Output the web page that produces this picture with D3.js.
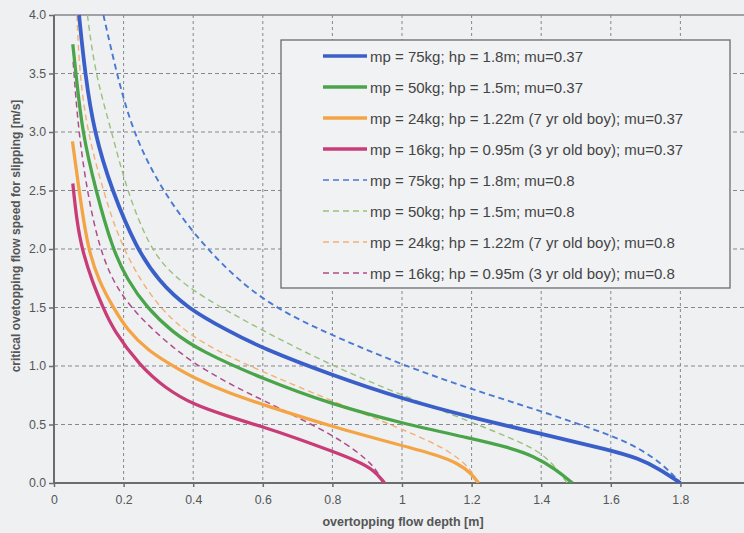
<!DOCTYPE html>
<html>
<head>
<meta charset="utf-8">
<script src="https://cdn.jsdelivr.net/npm/d3@7"></script>
<style>
  html, body { margin: 0; padding: 0; background: #eef0f2; }
  svg { display: block; }
</style>
</head>
<body>
<svg id="chart" width="744" height="533"></svg>
<script>
// ---- data (depth [m], speed [m/s]) ----
const xTicks = [0, 0.2, 0.4, 0.6, 0.8, 1, 1.2, 1.4, 1.6, 1.8];
const xTickLabels = ["0", "0.2", "0.4", "0.6", "0.8", "1", "1.2", "1.4", "1.6", "1.8"];
const yTicks = [0, 0.5, 1, 1.5, 2, 2.5, 3, 3.5, 4];
const yTickLabels = ["0.0", "0.5", "1.0", "1.5", "2.0", "2.5", "3.0", "3.5", "4.0"];

const labels = [
  "mp = 75kg; hp = 1.8m; mu=0.37",
  "mp = 50kg; hp = 1.5m; mu=0.37",
  "mp = 24kg; hp = 1.22m (7 yr old boy); mu=0.37",
  "mp = 16kg; hp = 0.95m (3 yr old boy); mu=0.37",
  "mp = 75kg; hp = 1.8m; mu=0.8",
  "mp = 50kg; hp = 1.5m; mu=0.8",
  "mp = 24kg; hp = 1.22m (7 yr old boy); mu=0.8",
  "mp = 16kg; hp = 0.95m (3 yr old boy); mu=0.8"
];

const s75_037 = [[0.072,4.0],[0.089,3.5],[0.115,3.0],[0.166,2.5],[0.238,2.0],[0.3,1.73],[0.38,1.5],[0.5,1.3],[0.6,1.15],[0.8,0.92],[1.0,0.72],[1.2,0.56],[1.4,0.42],[1.6,0.28],[1.68,0.21],[1.74,0.12],[1.8,0]];
const s50_037 = [[0.054,3.75],[0.063,3.5],[0.081,3.0],[0.12,2.5],[0.168,2.0],[0.21,1.74],[0.266,1.5],[0.34,1.29],[0.42,1.13],[0.6,0.89],[0.8,0.67],[1.0,0.51],[1.2,0.38],[1.3,0.31],[1.38,0.23],[1.44,0.12],[1.49,0]];
const s24_037 = [[0.053,2.92],[0.072,2.5],[0.097,2.0],[0.13,1.72],[0.17,1.5],[0.21,1.31],[0.27,1.13],[0.342,1.0],[0.4,0.9],[0.5,0.77],[0.6,0.67],[0.8,0.48],[1.0,0.32],[1.1,0.24],[1.16,0.17],[1.2,0.08],[1.22,0]];
const s16_037 = [[0.054,2.56],[0.065,2.25],[0.08,2.0],[0.11,1.72],[0.141,1.5],[0.17,1.31],[0.247,1.0],[0.32,0.81],[0.4,0.67],[0.5,0.57],[0.6,0.48],[0.7,0.38],[0.8,0.27],[0.87,0.19],[0.92,0.11],[0.95,0]];
const s75_08 = [[0.142,4.0],[0.18,3.5],[0.226,3.0],[0.309,2.5],[0.434,2.0],[0.6,1.54],[0.8,1.26],[1.0,1.01],[1.2,0.8],[1.4,0.615],[1.6,0.41],[1.68,0.3],[1.75,0.16],[1.8,0]];
const s50_08 = [[0.096,4.0],[0.118,3.5],[0.166,3.0],[0.209,2.5],[0.276,2.0],[0.34,1.78],[0.42,1.6],[0.6,1.3],[0.8,1.0],[1.0,0.75],[1.2,0.52],[1.35,0.34],[1.42,0.22],[1.475,0]];
const s24_08 = [[0.066,4.0],[0.073,3.5],[0.096,3.0],[0.141,2.5],[0.195,2.0],[0.295,1.5],[0.42,1.19],[0.6,0.95],[0.8,0.7],[1.0,0.46],[1.1,0.33],[1.16,0.22],[1.2,0.11],[1.215,0]];
const s16_08 = [[0.055,3.6],[0.07,3.0],[0.1,2.4],[0.14,1.9],[0.2,1.56],[0.3,1.26],[0.4,1.02],[0.534,0.8],[0.6,0.71],[0.7,0.56],[0.8,0.41],[0.87,0.27],[0.91,0.17],[0.935,0.07],[0.945,0]];

const seriesData = [s75_037, s50_037, s24_037, s16_037, s75_08, s50_08, s24_08, s16_08];
const colors = ["#3a5fc8", "#4aa44a", "#f4a444", "#c83c78", "#4a78d2", "#9cc07c", "#f4b070", "#b04c8c"];
const dashed = [false, false, false, false, true, true, true, true];
const widths = [3.8, 3.3, 3.3, 3.3, 1.9, 1.4, 1.4, 1.5];

// ---- layout ----
const svg = d3.select("#chart");
const mLeft = 54, mTop = 15, mBottom = 483;
const x = d3.scaleLinear().domain([0, 2]).range([mLeft, mLeft + 696]);
const y = d3.scaleLinear().domain([0, 4]).range([mBottom, mTop]);
const rightEdge = 744;

svg.append("rect").attr("x", 0).attr("y", 0).attr("width", 744).attr("height", 533).attr("fill", "#eef0f2");

svg.append("defs").append("clipPath").attr("id", "clip")
  .append("rect").attr("x", mLeft).attr("y", mTop - 1).attr("width", rightEdge - mLeft).attr("height", mBottom - mTop + 1);

// grid
const grid = svg.append("g");
grid.selectAll("line.v").data(xTicks.filter(d => d > 0)).join("line")
  .attr("x1", d => x(d)).attr("x2", d => x(d)).attr("y1", mTop).attr("y2", mBottom)
  .attr("stroke", "#85878c").attr("stroke-width", 1).attr("stroke-dasharray", "3,3");
grid.selectAll("line.h").data(yTicks.filter(d => d > 0 && d < 4)).join("line")
  .attr("x1", mLeft).attr("x2", rightEdge).attr("y1", d => y(d)).attr("y2", d => y(d))
  .attr("stroke", "#85878c").attr("stroke-width", 1).attr("stroke-dasharray", "4,3");

// top border
svg.append("line").attr("x1", mLeft).attr("x2", rightEdge).attr("y1", mTop).attr("y2", mTop)
  .attr("stroke", "#85878c").attr("stroke-width", 1.5);

// axes
const xAxis = d3.axisBottom(x).tickValues(xTicks).tickFormat((d, i) => xTickLabels[i]).tickSize(4).tickPadding(8);
const gx = svg.append("g").attr("transform", `translate(0,${mBottom})`).call(xAxis);
gx.select(".domain").remove();
gx.append("line").attr("x1", mLeft).attr("x2", rightEdge).attr("y1", 0).attr("y2", 0).attr("stroke", "#6a6c70").attr("stroke-width", 2);

const yAxis = d3.axisLeft(y).tickValues(yTicks).tickFormat((d, i) => yTickLabels[i]).tickSize(5).tickPadding(3);
const gy = svg.append("g").attr("transform", `translate(${mLeft},0)`).call(yAxis);
gy.select(".domain").attr("stroke", "#6a6c70").attr("stroke-width", 2).attr("d", `M0,${mTop}V${mBottom}`);

[gx, gy].forEach(g => {
  g.selectAll(".tick line").attr("stroke", "#6a6c70").attr("stroke-width", 1.5);
  g.selectAll(".tick text").attr("fill", "#555").attr("font-family", "Liberation Sans, Arial, sans-serif").attr("font-size", 12.3);
});

// lines
const line = d3.line().x(d => x(d[0])).y(d => y(d[1])).curve(d3.curveBasis);
const plot = svg.append("g").attr("clip-path", "url(#clip)");
const order = [4, 5, 6, 7, 0, 1, 2, 3];
order.forEach(i => {
  plot.append("path").datum(seriesData[i]).attr("d", line)
    .attr("fill", "none").attr("stroke", colors[i]).attr("stroke-width", widths[i])
    .attr("stroke-dasharray", dashed[i] ? "6,4" : null)
    .attr("stroke-linejoin", "round");
});

// legend
const lg = svg.append("g");
lg.append("rect").attr("x", 281).attr("y", 40).attr("width", 449).attr("height", 248)
  .attr("fill", "#f1f2f4").attr("stroke", "#6a6c70").attr("stroke-width", 1.3);
labels.forEach((lab, i) => {
  const yy = 56 + i * 31;
  lg.append("line").attr("x1", 323).attr("x2", 367).attr("y1", yy).attr("y2", yy)
    .attr("stroke", colors[i]).attr("stroke-width", dashed[i] ? 1.6 : 3.6)
    .attr("stroke-dasharray", dashed[i] ? "6,4" : null);
  lg.append("text").attr("x", 370).attr("y", yy + 5.5).text(lab)
    .attr("fill", "#444").attr("font-family", "Liberation Sans, Arial, sans-serif").attr("font-size", 15);
});

// titles
svg.append("text").attr("x", 403).attr("y", 526).attr("text-anchor", "middle")
  .attr("font-family", "Liberation Sans, Arial, sans-serif").attr("font-weight", "bold").attr("font-size", 12.5)
  .attr("fill", "#555").text("overtopping flow depth [m]");
svg.append("text").attr("transform", "translate(19.5,236) rotate(-90)").attr("text-anchor", "middle")
  .attr("font-family", "Liberation Sans, Arial, sans-serif").attr("font-weight", "bold").attr("font-size", 12)
  .attr("fill", "#555").text("critical ovetopping flow speed for slipping [m/s]");
</script>
</body>
</html>
